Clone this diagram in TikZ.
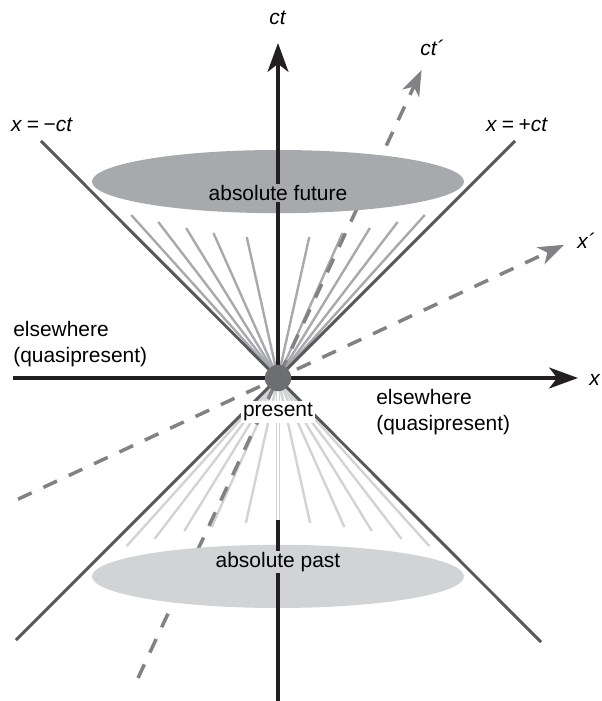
\documentclass[tikz,border=0pt]{standalone}
\usepackage{fontspec}
\setmainfont{Liberation Sans}
\usepackage{xcolor}
\usepackage{tikz}
\usetikzlibrary{arrows.meta,shapes.geometric}

\definecolor{axisblack}{HTML}{231F20}
\definecolor{conegray}{HTML}{58595B}
\definecolor{futuregray}{HTML}{A7A9AC}
\definecolor{pastgray}{HTML}{D1D3D4}
\definecolor{primegray}{HTML}{808285}
\definecolor{eventgray}{HTML}{6D6E71}

\begin{document}
\begin{tikzpicture}[
  font=\fontsize{14.9}{18.5}\selectfont,
  axis/.style={draw=axisblack, line width=2.85pt, -{Stealth[length=7.2mm,width=5.2mm,inset=2mm]}},
  primeaxis/.style={draw=primegray, line width=2.5pt, dash pattern=on 10.7pt off 9.2pt, -{Stealth[length=6.4mm,width=4.6mm,inset=1.8mm]}},
  cone/.style={draw=conegray, line width=2.1pt},
  futureray/.style={draw=futuregray, line width=1.7pt},
  pastray/.style={draw=pastgray, line width=1.7pt},
  region/.style={ellipse, inner sep=0, minimum width=9.3cm, minimum height=1.58cm},
  label/.style={inner sep=1pt}
]
\useasboundingbox (-6.95,-8.075) rectangle (8.075,9.45);

\coordinate (O) at (0,0);
\coordinate (ctbottom) at (0,-8.2);
\coordinate (cttip) at (0,8.375);
\coordinate (pastaxis) at (0,-3.55);
\coordinate (xleft) at (-6.625,0);
\coordinate (xtip) at (7.5,0);
\coordinate (ulend) at (-5.925,5.925);
\coordinate (urend) at (5.925,5.925);
\coordinate (llend) at (-6.55,-6.55);
\coordinate (lrend) at (6.575,-6.6);
\coordinate (ctpbottom) at (-3.5,-7.5);
\coordinate (ctptip) at (3.59,7.7);
\coordinate (xpleft) at (-6.5,-3.03);
\coordinate (xptip) at (7.15,3.33);

% light cone rays
\foreach \a/\h in {12.5/3.525, 24/3.625, 31.5/3.75, 37.5/3.9, 42/4.075}{
  \draw[futureray] (O) -- ({tan(\a)*\h},\h);
  \draw[futureray] (O) -- ({-tan(\a)*\h},\h);
}
\foreach \a/\h in {12.5/3.625, 24/3.725, 31.5/3.825, 37.5/4.025, 42/4.2}{
  \draw[pastray] (O) -- ({tan(\a)*\h},-\h);
  \draw[pastray] (O) -- ({-tan(\a)*\h},-\h);
}

\draw[cone] (ulend) -- (lrend);
\draw[cone] (urend) -- (llend);

\draw[primeaxis] (ctpbottom) -- (ctptip);
\draw[primeaxis] (xpleft) -- (xptip);

\node[region, fill=futuregray] (futureregion) at (0,4.91) {};
\node[region, fill=pastgray] (pastregion) at (0,-4.96) {};

\draw[axis] (ctbottom) -- (cttip);
\draw[axis] (xleft) -- (xtip);
\draw[pastgray, line width=0.8pt, double=white, double distance=1.2pt] (O) -- (pastaxis);

\node[circle, fill=eventgray, minimum size=0.66cm, inner sep=0] (event) at (O) {};

\node[label, fill=futuregray] (futurelabel) at (0,4.625) {absolute future};
\node[label, fill=pastgray] (pastlabel) at (0,-4.6) {absolute past};
\node[label, fill=white, inner sep=1.5pt] (presentlabel) at (0,-0.85) {present};
\node[align=left, anchor=west, inner sep=0] (elseleft) at (-6.625,0.84) {elsewhere\\(quasipresent)};
\node[align=left, anchor=west, inner sep=0] (elseright) at (2.45,-0.86) {elsewhere\\(quasipresent)};

\node[inner sep=0] (ctlabel) at (0,9.0) {\textit{ct}};
\node[inner sep=0] (ctplabel) at (3.85,8.25) {\textit{ct´}};
\node[inner sep=0] (xlabel) at (7.78,-0.05) [anchor=west] {\textit{x}};
\node[inner sep=0] (xplabel) at (7.7,3.42) {\textit{x´}};
\node[inner sep=0] (minuslabel) at (-5.9,6.325) {\textit{x}\hspace{.22em}=\hspace{.22em}−\textit{ct}};
\node[inner sep=0] (pluslabel) at (5.975,6.325) {\textit{x}\hspace{.22em}=\hspace{.22em}+\textit{ct}};
\end{tikzpicture}
\end{document}
